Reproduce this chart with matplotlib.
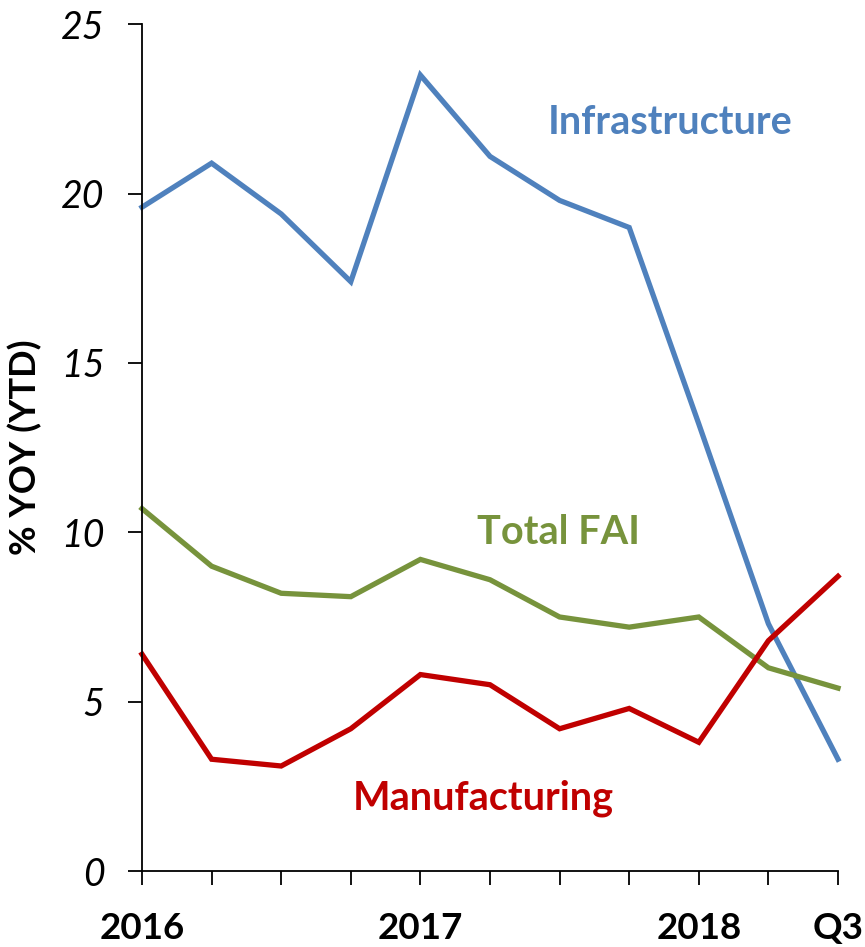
import matplotlib
matplotlib.use("Agg")
import matplotlib.pyplot as plt

quarters = ["2016", "", "", "", "2017", "", "", "", "2018", "", "Q3"]
infrastructure = [19.6, 20.9, 19.4, 17.4, 23.5, 21.1, 19.8, 19.0, 13.2, 7.3, 3.3]
total_fai = [10.7, 9.0, 8.2, 8.1, 9.2, 8.6, 7.5, 7.2, 7.5, 6.0, 5.4]
manufacturing = [6.4, 3.3, 3.1, 4.2, 5.8, 5.5, 4.2, 4.8, 3.8, 6.8, 8.7]
y_ticks = [0, 5, 10, 15, 20, 25]

BLUE = "#4F81BD"
GREEN = "#77933C"
RED = "#C00000"

W, H = 865, 947
fig = plt.figure(figsize=(W / 100, H / 100), dpi=100)
ax = fig.add_axes([142 / W, 1 - 871 / H, (838 - 142) / W, (871 - 24.3) / H])

x = list(range(len(quarters)))
lw = 3.8
ax.plot(x, infrastructure, color=BLUE, lw=lw, clip_on=False, solid_joinstyle="miter")
ax.plot(x, total_fai, color=GREEN, lw=lw, clip_on=False, solid_joinstyle="miter")
ax.plot(x, manufacturing, color=RED, lw=lw, clip_on=False, solid_joinstyle="miter")

ax.set_xlim(0, len(quarters) - 1)
ax.set_ylim(0, 25)

for s in ["top", "right"]:
    ax.spines[s].set_visible(False)
for s in ["left", "bottom"]:
    ax.spines[s].set_linewidth(1.3)
    ax.spines[s].set_color("black")

ax.set_yticks(y_ticks)
ax.set_yticklabels([str(v) for v in y_ticks], fontfamily="Lato", fontstyle="italic",
                   fontsize=27)
ax.set_xticks(x)
ax.set_xticklabels(quarters, fontfamily="Lato", fontweight="bold", fontsize=26.5)
ax.tick_params(axis="y", direction="out", length=10, width=1.3, pad=17)
ax.tick_params(axis="x", direction="out", length=10, width=1.3, pad=19.5)

ax.set_ylabel("% YOY (YTD)", fontfamily="Lato", fontweight="bold", fontsize=26)
ax.yaxis.set_label_coords(-0.143, 0.5)

ax.text(7.59, 22.1, "Infrastructure", color=BLUE, fontfamily="Lato", fontweight="bold",
        fontsize=28.5, ha="center", va="center")
ax.text(5.98, 10.0, "Total FAI", color=GREEN, fontfamily="Lato", fontweight="bold",
        fontsize=28.5, ha="center", va="center")
ax.text(4.9, 2.15, "Manufacturing", color=RED, fontfamily="Lato", fontweight="bold",
        fontsize=28.5, ha="center", va="center")

fig.savefig("out.png", dpi=100)
